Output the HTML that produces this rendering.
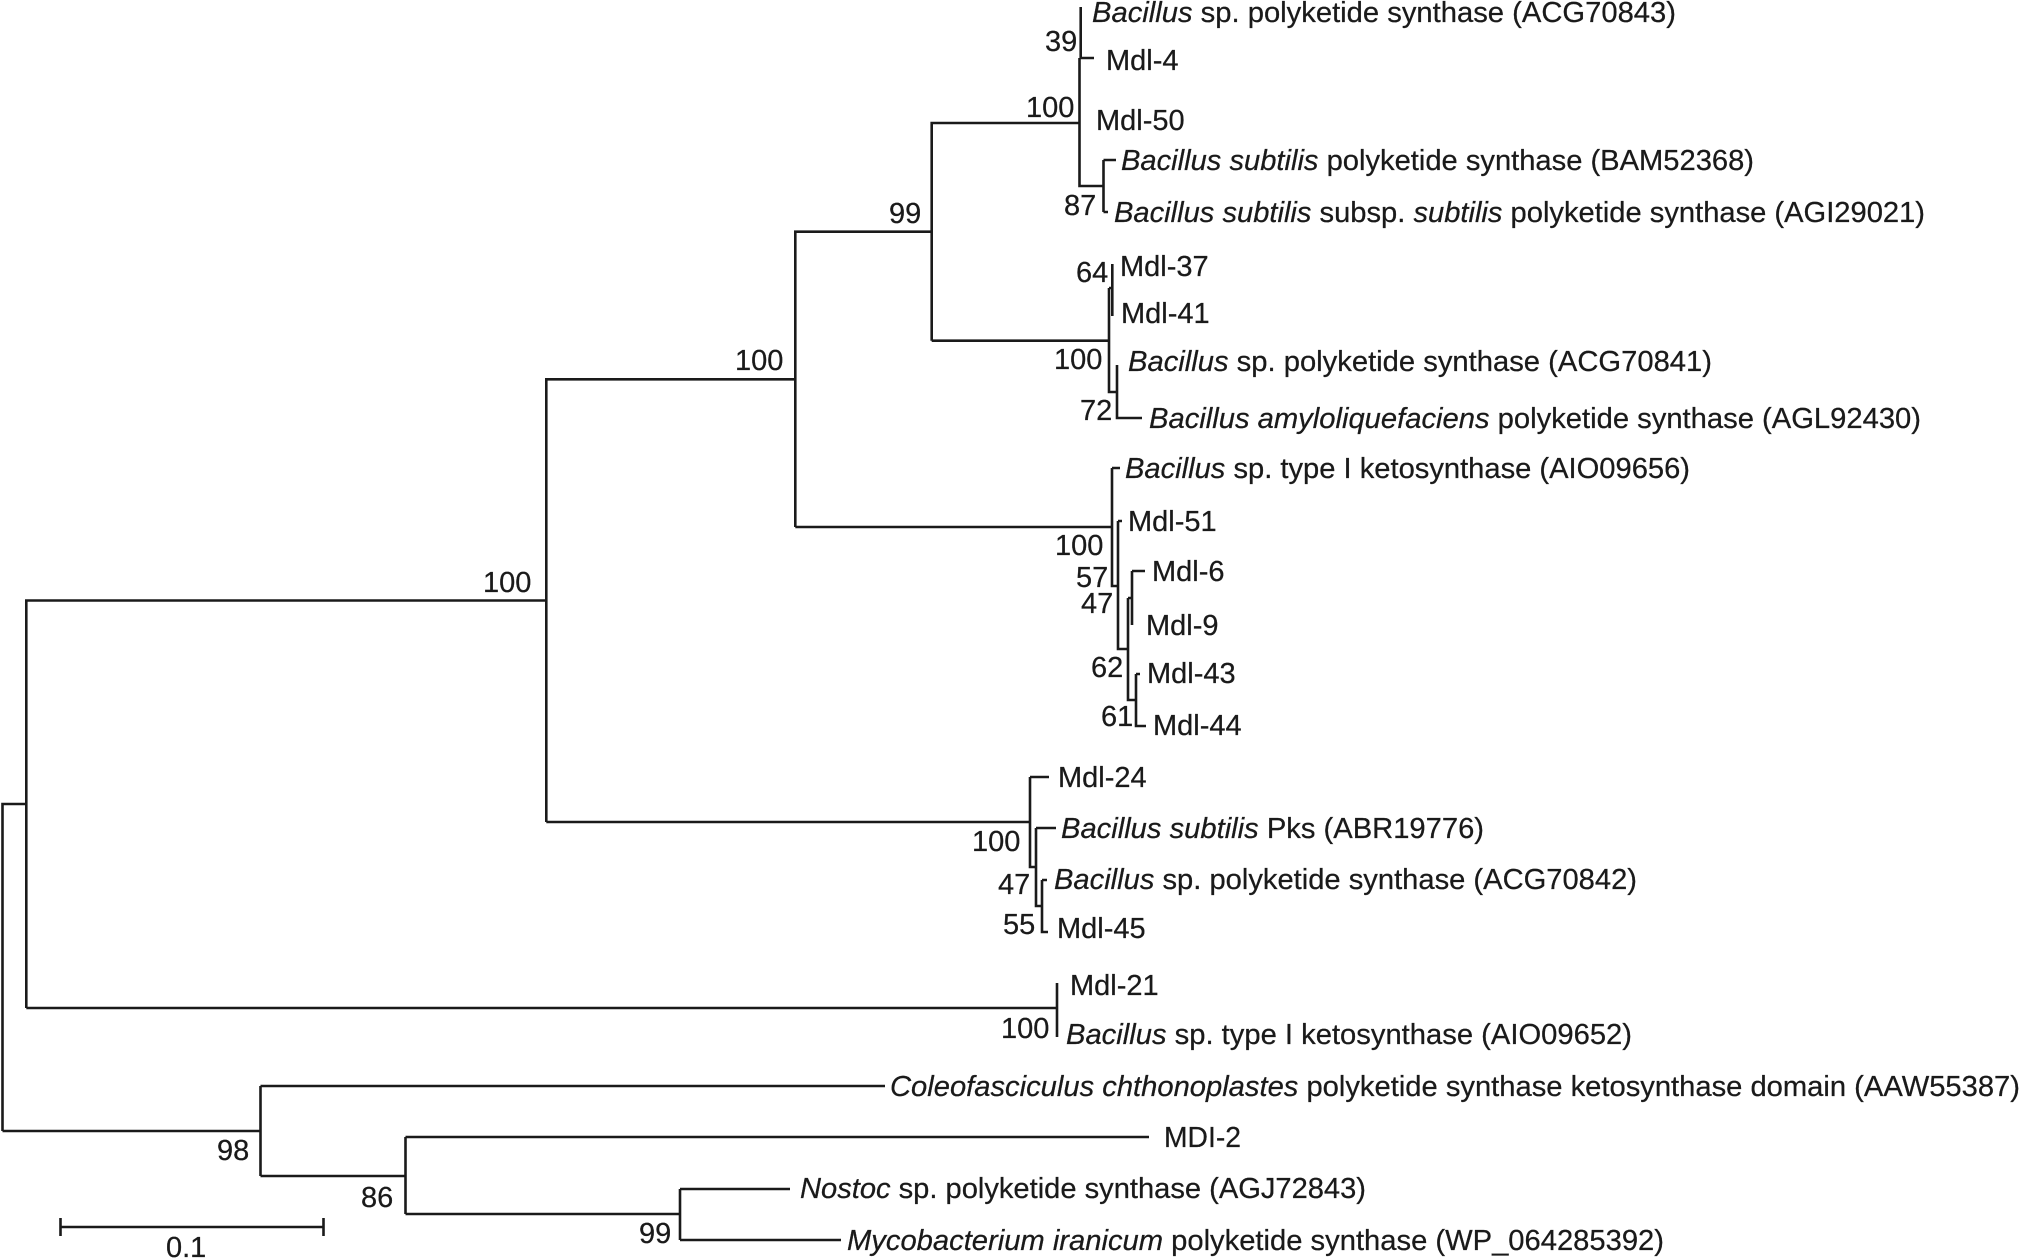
<!DOCTYPE html>
<html><head><meta charset="utf-8"><style>
html,body{margin:0;padding:0;background:#fff}
svg{display:block}
text{font-family:"Liberation Sans",Arial,sans-serif;font-size:29px;fill:#1a1a1a;stroke:#1a1a1a;stroke-width:.25px}
.i{font-style:italic}
</style></head><body>
<svg width="2021" height="1259" viewBox="0 0 2021 1259" xmlns="http://www.w3.org/2000/svg">
<rect width="2021" height="1259" fill="#fff"/>
<g fill="none" stroke="#1a1a1a" stroke-width="2.6">
<path d="M2.5 1131V804H26.3M2.5 1131H260.5"/>
<path d="M26.3 1008V600.5H546.3M26.3 1008H1057M1057 983V1037"/>
<path d="M546.3 822V379.3H795.3M546.3 822H1030"/>
<path d="M795.3 527V231.7H931.7M795.3 527H1112"/>
<path d="M931.7 340.7V123H1079.5M931.7 340.7H1109"/>
<path d="M1080.7 7V58M1079.5 58H1094M1079.5 58V186H1103.5M1103.5 160V212M1103.5 160H1116M1103.5 212H1108"/>
<path d="M1112.3 264V316M1109 288H1112.3M1109 288V392H1117M1117 365V418H1142"/>
<path d="M1112 468H1120M1112 468V586H1118M1118 521H1122M1118 521V649H1128M1128 598H1132M1132 571H1145M1132 571V625M1128 598V700H1136M1136 674H1140M1136 674V726H1146"/>
<path d="M1030 777H1049M1030 777V867H1036M1036 828H1056M1036 828V906H1042M1042 880H1047M1042 880V932H1048"/>
<path d="M260.5 1086V1176M260.5 1086H885M260.5 1176H405.5M405.5 1137V1214M405.5 1137H1149M405.5 1214H680M680 1189V1240M680 1189H790M680 1240H841"/>
<path d="M60.5 1218V1236M60.5 1227H323.5M323.5 1218V1236"/>
</g>
<text x="1092" y="22" textLength="584" lengthAdjust="spacingAndGlyphs"><tspan class="i">Bacillus</tspan> sp. polyketide synthase (ACG70843)</text>
<text x="1106" y="70">Mdl-4</text>
<text x="1096" y="130">Mdl-50</text>
<text x="1121" y="170" textLength="633" lengthAdjust="spacingAndGlyphs"><tspan class="i">Bacillus subtilis</tspan> polyketide synthase (BAM52368)</text>
<text x="1114" y="222" textLength="811" lengthAdjust="spacingAndGlyphs"><tspan class="i">Bacillus subtilis</tspan> subsp. <tspan class="i">subtilis</tspan> polyketide synthase (AGI29021)</text>
<text x="1120" y="276">Mdl-37</text>
<text x="1121" y="323">Mdl-41</text>
<text x="1128" y="371" textLength="584" lengthAdjust="spacingAndGlyphs"><tspan class="i">Bacillus</tspan> sp. polyketide synthase (ACG70841)</text>
<text x="1149" y="428" textLength="772" lengthAdjust="spacingAndGlyphs"><tspan class="i">Bacillus amyloliquefaciens</tspan> polyketide synthase (AGL92430)</text>
<text x="1125" y="478" textLength="565" lengthAdjust="spacingAndGlyphs"><tspan class="i">Bacillus</tspan> sp. type I ketosynthase (AIO09656)</text>
<text x="1128" y="531">Mdl-51</text>
<text x="1152" y="581">Mdl-6</text>
<text x="1146" y="635">Mdl-9</text>
<text x="1147" y="683">Mdl-43</text>
<text x="1153" y="735">Mdl-44</text>
<text x="1058" y="787">Mdl-24</text>
<text x="1061" y="838" textLength="423" lengthAdjust="spacingAndGlyphs"><tspan class="i">Bacillus subtilis</tspan> Pks (ABR19776)</text>
<text x="1054" y="889" textLength="583" lengthAdjust="spacingAndGlyphs"><tspan class="i">Bacillus</tspan> sp. polyketide synthase (ACG70842)</text>
<text x="1057" y="938">Mdl-45</text>
<text x="1070" y="995">Mdl-21</text>
<text x="1066" y="1044" textLength="566" lengthAdjust="spacingAndGlyphs"><tspan class="i">Bacillus</tspan> sp. type I ketosynthase (AIO09652)</text>
<text x="890" y="1096" textLength="1130" lengthAdjust="spacingAndGlyphs"><tspan class="i">Coleofasciculus chthonoplastes</tspan> polyketide synthase ketosynthase domain (AAW55387)</text>
<text x="1164" y="1147" textLength="77" lengthAdjust="spacingAndGlyphs">MDI-2</text>
<text x="800" y="1198" textLength="566" lengthAdjust="spacingAndGlyphs"><tspan class="i">Nostoc</tspan> sp. polyketide synthase (AGJ72843)</text>
<text x="847" y="1250" textLength="817" lengthAdjust="spacingAndGlyphs"><tspan class="i">Mycobacterium iranicum</tspan> polyketide synthase (WP_064285392)</text>
<text x="1045" y="51">39</text>
<text x="1026" y="117">100</text>
<text x="1064" y="215">87</text>
<text x="889" y="223">99</text>
<text x="1076" y="282">64</text>
<text x="1054" y="369">100</text>
<text x="735" y="370">100</text>
<text x="1080" y="420">72</text>
<text x="1055" y="555">100</text>
<text x="1076" y="587">57</text>
<text x="1081" y="613">47</text>
<text x="483" y="592">100</text>
<text x="1091" y="677">62</text>
<text x="1101" y="726">61</text>
<text x="972" y="851">100</text>
<text x="998" y="894">47</text>
<text x="1003" y="934">55</text>
<text x="1001" y="1038">100</text>
<text x="217" y="1160">98</text>
<text x="361" y="1207">86</text>
<text x="639" y="1243">99</text>
<text x="166" y="1257">0.1</text>
</svg>
</body></html>
